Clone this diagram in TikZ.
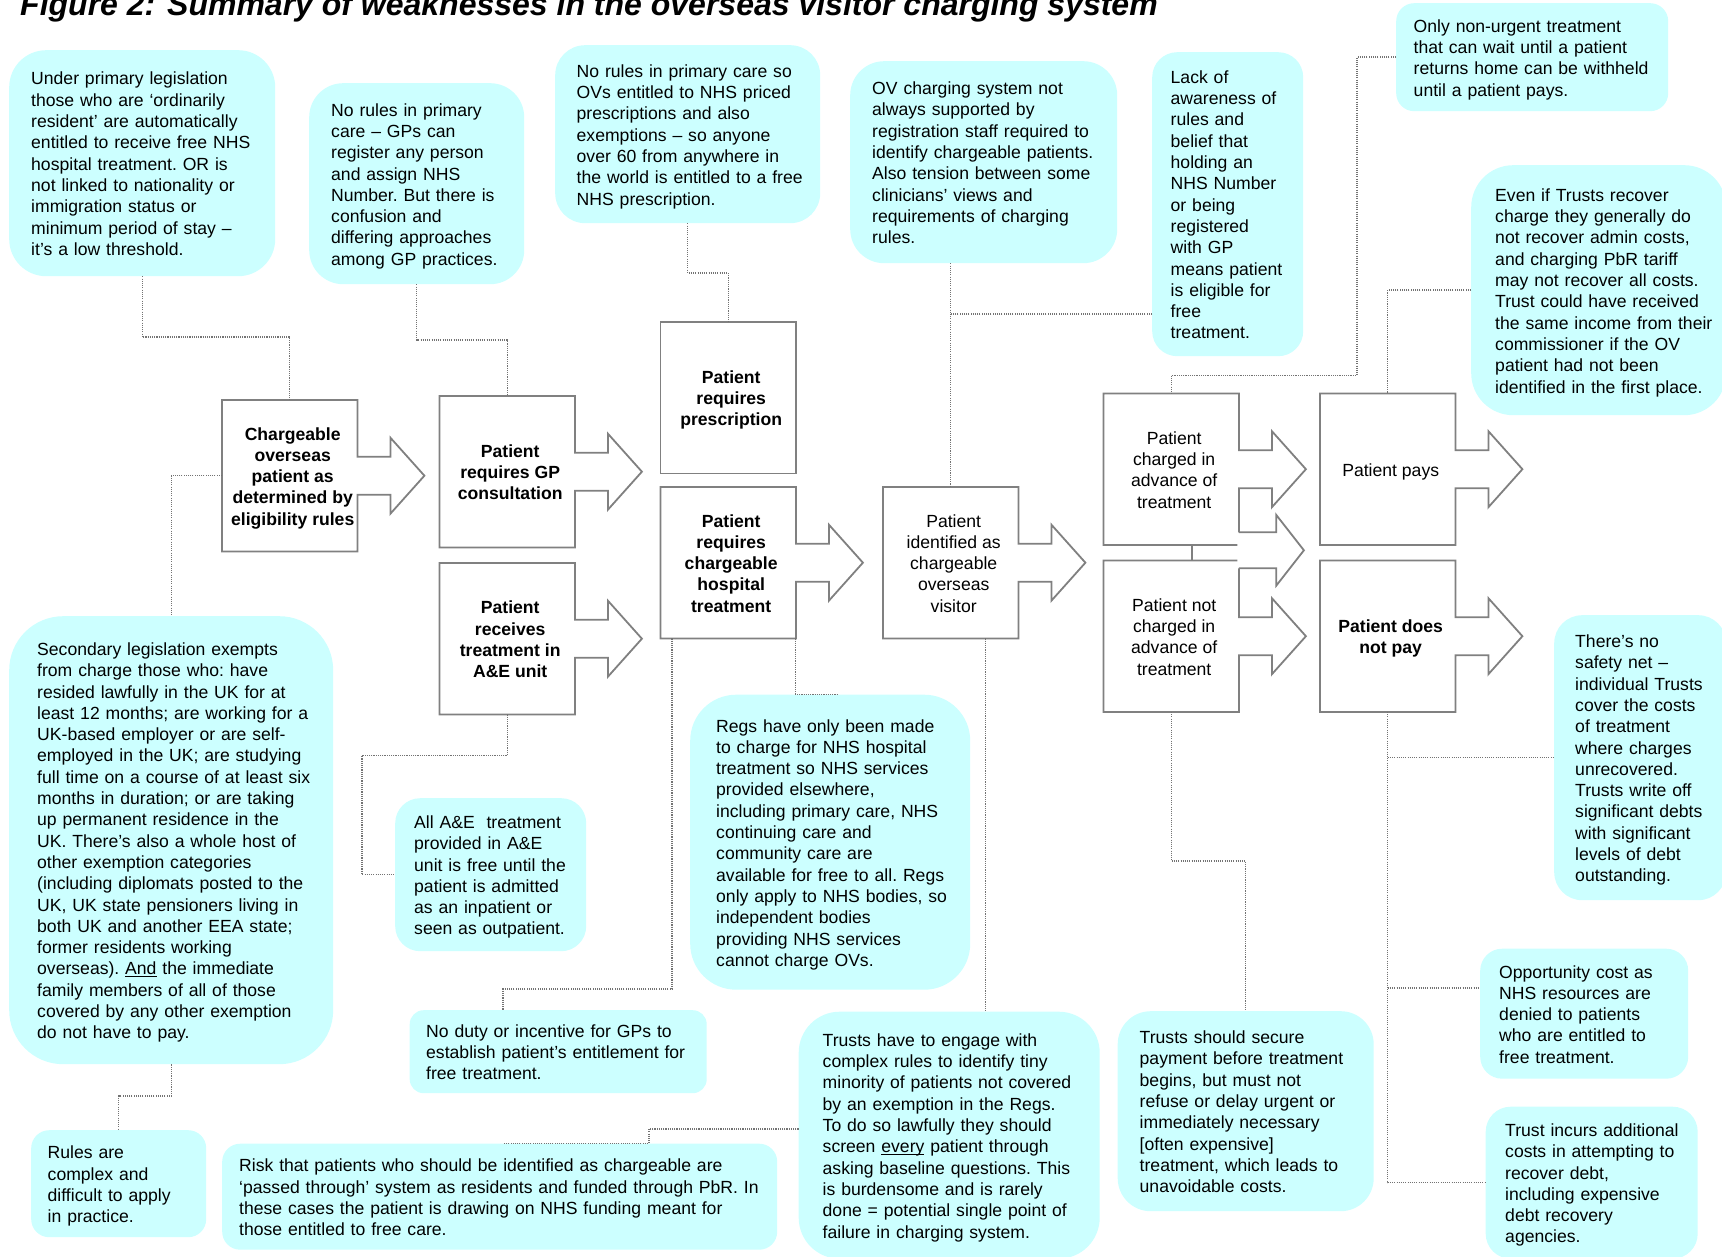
\documentclass[tikz,border=0pt]{standalone}
\usepackage{fontspec}
\setmainfont{Liberation Sans}
\usetikzlibrary{calc}
\definecolor{bubcol}{RGB}{204,255,255}
\definecolor{boxgray}{RGB}{128,128,128}
\definecolor{conngray}{RGB}{115,115,115}
\newcommand\bubfont{\fontsize{17.6}{21.3}\selectfont\frenchspacing}
\newcommand\boxfont{\fontsize{17.6}{21.3}\selectfont\frenchspacing}
\newcommand\boxfontb{\fontsize{17.6}{21.3}\selectfont\bfseries\frenchspacing}
\newcommand\titlefont{\fontsize{32}{38}\selectfont\bfseries\itshape}
\newcommand\ulword[1]{\underline{\smash{#1}}}
% #1 name #2 x #3 y #4 w #5 h #6 inset #7 radius #8 text
\newcommand\bub[8]{%
  \pgfmathsetmacro\bubtw{#4-2*#6}%
  \node[bubble, rounded corners=#7pt, minimum width=#4pt, minimum height=#5pt, text width=\bubtw pt] (#1) at (#2,#3) {\raisebox{-2.7pt}[\height][\depth]{\begin{tabular}{@{}l@{}}#8\end{tabular}}};%
}
\newcommand\boxtext[1]{\hspace*{6pt}\raisebox{-2.7pt}[\height][\depth]{\begin{tabular}{@{}c@{}}#1\end{tabular}}}
\newcommand\arrowout[1]{\draw[boxline] (#1.north west) -- (#1.north east) -- ([yshift=19pt]#1.east) -- ++(33,0) -- ++(0,-19) -- ++(34,38) -- ++(-34,38) -- ++(0,-19) -- ++(-33,0) -- (#1.south east) -- (#1.south west) -- cycle;}
\newcommand\plainbox[1]{\draw[boxline] (#1.north west) rectangle (#1.south east);}
\begin{document}
\begin{tikzpicture}[x=1pt,y=-1pt,
  bubble/.style={fill=bubcol, draw=none, inner sep=0pt, align=left, font=\bubfont, anchor=north west},
  procst/.style={minimum width=135pt, minimum height=151pt, inner sep=0pt, align=center, anchor=north west},
  boxline/.style={draw=boxgray, line width=1.8pt, line join=miter},
  conn/.style={draw=conngray, line width=1.1pt, dash pattern=on 1.1pt off 1.1pt}]
\useasboundingbox (0,0) rectangle (1722,1257);
\fill[white] (0,0) rectangle (1722,1257);

% title
\node[anchor=base west, font=\titlefont, inner sep=0pt] (title) at (20,16) {Figure 2: Summary of weaknesses in the overseas visitor charging system};

% bubbles
\bub{A}{9}{50}{266}{226}{22}{37}{Under primary legislation\\those who are ‘ordinarily\\resident’ are automatically\\entitled to receive free NHS\\hospital treatment. OR is\\not linked to nationality or\\immigration status or\\minimum period of stay –\\it’s a low threshold.}
\bub{B}{309}{83}{215}{201}{22}{34}{No rules in primary\\care – GPs can\\register any person\\and assign NHS\\Number. But there is\\confusion and\\differing approaches\\among GP practices.}
\bub{C}{555}{45}{265}{178}{21.5}{30}{No rules in primary care so\\OVs entitled to NHS priced\\prescriptions and also\\exemptions – so anyone\\over 60 from anywhere in\\the world is entitled to a free\\NHS prescription.}
\bub{D}{850}{61}{267}{202}{22}{34}{OV charging system not\\always supported by\\registration staff required to\\identify chargeable patients.\\Also tension between some\\clinicians’ views and\\requirements of charging\\rules.}
\bub{E}{1152}{52}{151}{304}{18.5}{25}{Lack of\\awareness of\\rules and\\belief that\\holding an\\NHS Number\\or being\\registered\\with GP\\means patient\\is eligible for\\free\\treatment.}
\bub{F}{1396}{3}{272}{108}{17.5}{18}{Only non-urgent treatment\\that can wait until a patient\\returns home can be withheld\\until a patient pays.}
\bub{G}{1471}{165}{255}{250}{24}{42}{Even if Trusts recover\\charge they generally do\\not recover admin costs,\\and charging PbR tariff\\may not recover all costs.\\Trust could have received\\the same income from their\\commissioner if the OV\\patient had not been\\identified in the first place.}
\bub{H}{9}{616}{324}{448}{28}{54}{Secondary legislation exempts\\from charge those who: have\\resided lawfully in the UK for at\\least 12 months; are working for a\\UK-based employer or are self-\\employed in the UK; are studying\\full time on a course of at least six\\months in duration; or are taking\\up permanent residence in the\\UK. There’s also a whole host of\\other exemption categories\\(including diplomats posted to the\\UK, UK state pensioners living in\\both UK and another EEA state;\\former residents working\\overseas). \ulword{And} the immediate\\family members of all of those\\covered by any other exemption\\do not have to pay.}
\bub{I}{31}{1130}{175}{107}{16.5}{18}{Rules are\\complex and\\difficult to apply\\in practice.}
\bub{J}{222}{1143.5}{555}{106}{17}{18}{Risk that patients who should be identified as chargeable are\\‘passed through’ system as residents and funded through PbR. In\\these cases the patient is drawing on NHS funding meant for\\those entitled to free care.}
\bub{K}{395}{798}{191}{153}{19}{25}{All A\&E\ \ treatment\\provided in A\&E\\unit is free until the\\patient is admitted\\as an inpatient or\\seen as outpatient.}
\bub{L}{409.5}{1010}{297}{83}{16.5}{14}{No duty or incentive for GPs to\\establish patient’s entitlement for\\free treatment.}
\bub{M}{690}{694.5}{280}{295}{26}{46}{Regs have only been made\\to charge for NHS hospital\\treatment so NHS services\\provided elsewhere,\\including primary care, NHS\\continuing care and\\community care are\\available for free to all. Regs\\only apply to NHS bodies, so\\independent bodies\\providing NHS services\\cannot charge OVs.}
\bub{N}{798.5}{1011.5}{301}{247}{24}{41}{Trusts have to engage with\\complex rules to identify tiny\\minority of patients not covered\\by an exemption in the Regs.\\To do so lawfully they should\\screen \ulword{every} patient through\\asking baseline questions. This\\is burdensome and is rarely\\done = potential single point of\\failure in charging system.}
\bub{O}{1117.5}{1011}{256}{200}{22}{33}{Trusts should secure\\payment before treatment\\begins, but must not\\refuse or delay urgent or\\immediately necessary\\{[}often expensive{]}\\treatment, which leads to\\unavoidable costs.}
\bub{P}{1554}{615}{172}{285}{21}{28}{There’s no\\safety net –\\individual Trusts\\cover the costs\\of treatment\\where charges\\unrecovered.\\Trusts write off\\significant debts\\with significant\\levels of debt\\outstanding.}
\bub{Q}{1480}{948.5}{208}{130}{19}{22}{Opportunity cost as\\NHS resources are\\denied to patients\\who are entitled to\\free treatment.}
\bub{R}{1485.5}{1106.5}{212}{152}{19.5}{25}{Trust incurs additional\\costs in attempting to\\recover debt,\\including expensive\\debt recovery\\agencies.}

% process boxes
\node[procst, font=\boxfontb] (box1) at (222,400) {\boxtext{Chargeable\\overseas\\patient as\\determined by\\eligibility rules}};
\node[procst, font=\boxfontb] (box2) at (439.5,396) {\boxtext{Patient\\requires GP\\consultation}};
\node[procst, font=\boxfontb] (box3) at (439.5,563) {\boxtext{Patient\\receives\\treatment in\\A\&E unit}};
\node[procst, font=\boxfontb] (box4) at (660.5,322) {\boxtext{Patient\\requires\\prescription}};
\node[procst, font=\boxfontb] (box5) at (660.5,487) {\boxtext{Patient\\requires\\chargeable\\hospital\\treatment}};
\node[procst, font=\boxfont] (box6) at (883,487) {\boxtext{Patient\\identified as\\chargeable\\overseas\\visitor}};
\node[procst, font=\boxfont] (box7) at (1103.5,393.5) {\boxtext{Patient\\charged in\\advance of\\treatment}};
\node[procst, font=\boxfont] (box8) at (1103.5,560.5) {\boxtext{Patient not\\charged in\\advance of\\treatment}};
\node[procst, font=\boxfont] (box9) at (1320,393.5) {\boxtext{Patient pays}};
\node[procst, font=\boxfontb] (box10) at (1320,560.5) {\boxtext{Patient does\\not pay}};

\arrowout{box1}
\arrowout{box2}
\arrowout{box3}
\plainbox{box4}
\arrowout{box5}
\arrowout{box6}
\arrowout{box7}
\arrowout{box8}
\arrowout{box9}
\arrowout{box10}

% middle arrow between charged / not charged
\coordinate (midarr) at (box7.east |- 0,550.3);
\fill[white] ([xshift=-1.5pt,yshift=18pt]midarr) -- ++(38.9,0) -- ++(0,-17.3) -- ++(27.6,35.3) -- ++(-27.6,35.3) -- ++(0,-17.3) -- ++(-38.9,0) -- cycle;
\draw[boxline] ([yshift=18pt]midarr) -- ++(37.4,0) -- ++(0,-17.3) -- ++(27.6,35.3) -- ++(-27.6,35.3) -- ++(0,-17.3) -- ++(-37.4,0);
\draw[boxline] (1192,0 |- box7.south) -- (1192,0 |- box8.north);

% dotted connectors
\draw[conn] (A.south) -- (A.south |- 0,337) -- (box1.north |- 0,337) -- (box1.north);
\draw[conn] (B.south) -- (B.south |- 0,340) -- (box2.north |- 0,340) -- (box2.north);
\draw[conn] (C.south) -- (C.south |- 0,273) -- (box4.north |- 0,273) -- (box4.north);
\draw[conn] (box6.north |- D.south) -- (box6.north);
\draw[conn] (E.west |- 0,314) -- (box6.north |- 0,314);
\draw[conn] (F.west |- 0,57) -- (1357,57) -- (1357,375.5) -- (box7.north |- 0,375.5) -- (box7.north);
\draw[conn] (G.west |- 0,290) -- (box9.north |- 0,290) -- (box9.north);
\draw[conn] (box1.west) -- (H.north |- box1.west) -- (H.north);
\draw[conn] (H.south) -- (H.south |- 0,1096) -- (I.north |- 0,1096) -- (I.north);
\draw[conn] (box3.south) -- (box3.south |- 0,755.5) -- (362,755.5) -- (362,0 |- K.west) -- (K.west);
\draw[conn] (672,0 |- box5.south) -- (672,989) -- (503,989) -- (503,0 |- L.north);
\draw[conn] (box5.south east) -- (box5.south east |- M.north) -- (837,0 |- M.north);
\draw[conn] (985.7,0 |- box6.south) -- (985.7,0 |- N.north);
\draw[conn] (N.west |- 0,1129) -- (649,1129) -- (649,0 |- J.north) -- (503,0 |- J.north);
\draw[conn] (box8.south) -- (box8.south |- 0,861) -- (O.north |- 0,861) -- (O.north);
\draw[conn] (box10.south) -- (box10.south |- R.west) -- (R.west);
\draw[conn] (box10.south |- P.west) -- (P.west);
\draw[conn] (box10.south |- 0,988) -- (Q.west |- 0,988);
\end{tikzpicture}
\end{document}
